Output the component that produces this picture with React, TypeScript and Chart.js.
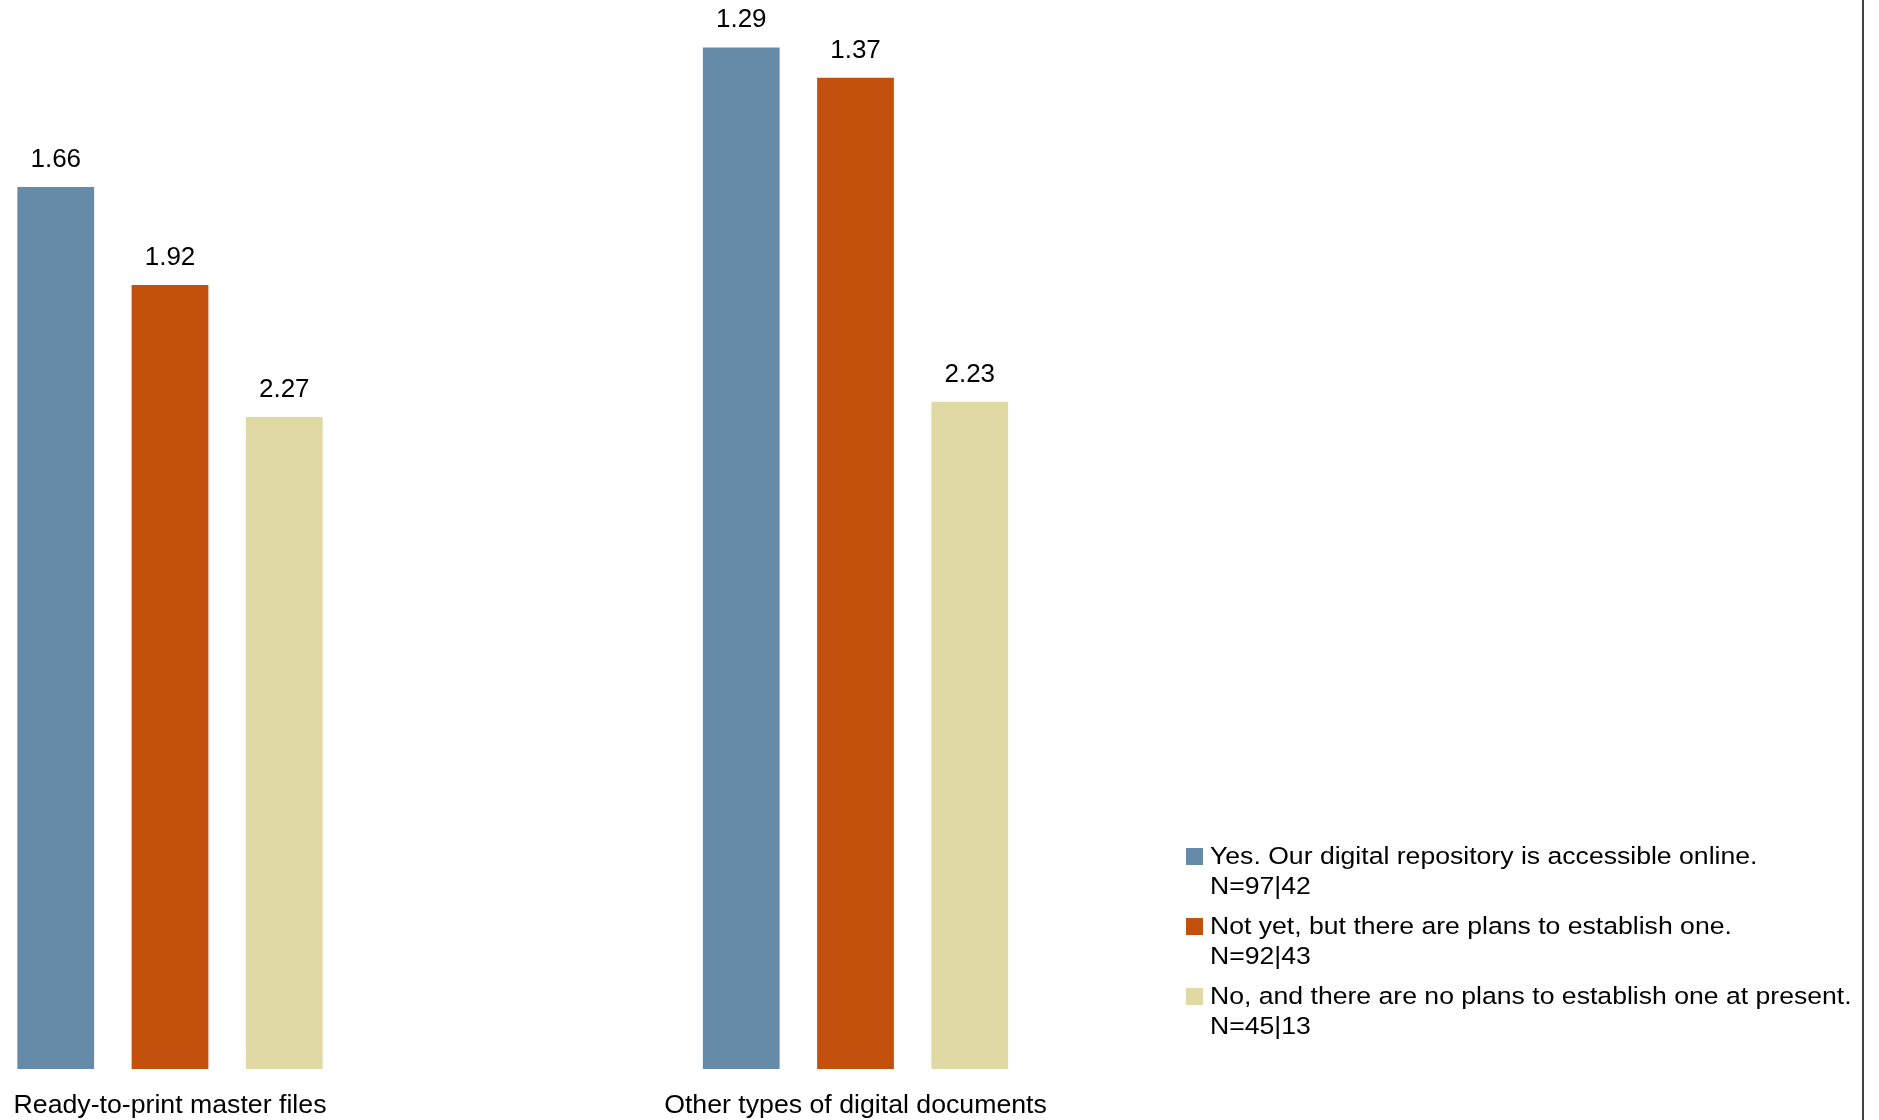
import React, { useEffect, useRef } from "react";
import { Chart, registerables } from "chart.js";

Chart.register(...registerables);

// ---- Data ----
const CATEGORIES = ["Ready-to-print master files", "Other types of digital documents"];
const SERIES_NAMES = [
  "Yes. Our digital repository is accessible online.",
  "Not yet, but there are plans to establish one.",
  "No, and there are no plans to establish one at present.",
];
const SERIES_N = ["N=97|42", "N=92|43", "N=45|13"];
const YES_VALUES = [1.66, 1.29];
const PLANS_VALUES = [1.92, 1.37];
const NO_VALUES = [2.27, 2.23];
const SERIES_VALUES = [YES_VALUES, PLANS_VALUES, NO_VALUES];

// ---- Style ----
const COLORS = ["#668BA8", "#C4500E", "#E0D9A4"];
const AXIS_BASE = 4; // bars grow from this value (bottom of reversed axis)
const AXIS_TOP = 1.164; // value at the top of the plot area
const FONT = "'Liberation Sans', Arial, sans-serif";

const valueLabelPlugin = {
  id: "valueLabels",
  afterDatasetsDraw(chart: any) {
    const ctx = chart.ctx;
    const yScale = chart.scales.y;
    ctx.save();
    ctx.font = `26px ${FONT}`;
    ctx.fillStyle = "#000";
    ctx.textAlign = "center";
    ctx.textBaseline = "alphabetic";
    SERIES_VALUES.forEach((vals, i) => {
      const meta = chart.getDatasetMeta(i);
      meta.data.forEach((bar: any, j: number) => {
        const v = vals[j];
        const y = yScale.getPixelForValue(v);
        ctx.fillText(v.toFixed(2), bar.x, y - 20);
      });
    });
    ctx.restore();
  },
};

const legendPlugin = {
  id: "customLegend",
  afterDraw(chart: any) {
    const ctx = chart.ctx;
    ctx.save();
    const boxX = 1186;
    const textX = 1210;
    const firstBaseline = 864;
    const entryPitch = 70;
    const linePitch = 30;
    SERIES_NAMES.forEach((name, i) => {
      const base = firstBaseline + i * entryPitch;
      ctx.fillStyle = COLORS[i];
      ctx.fillRect(boxX, base - 16, 17, 17);
      ctx.fillStyle = "#000";
      ctx.font = `26.6px ${FONT}`;
      ctx.textAlign = "left";
      ctx.textBaseline = "alphabetic";
      [name, SERIES_N[i]].forEach((line, k) => {
        ctx.save();
        ctx.translate(textX, base + k * linePitch);
        ctx.scale(1, 0.87);
        ctx.fillText(line, 0, 0);
        ctx.restore();
      });
    });
    // right frame line
    ctx.fillStyle = "#404040";
    ctx.fillRect(1862, 0, 2, chart.height);
    ctx.restore();
  },
};

export default function App() {
  const canvasRef = useRef<HTMLCanvasElement | null>(null);

  useEffect(() => {
    if (!canvasRef.current) return;
    const chart = new Chart(canvasRef.current, {
      type: "bar",
      data: {
        labels: CATEGORIES,
        datasets: SERIES_VALUES.map((vals, i) => ({
          label: SERIES_NAMES[i],
          data: vals.map((v) => [AXIS_BASE, v]),
          backgroundColor: COLORS[i],
          borderWidth: 0,
          categoryPercentage: 0.5,
          barPercentage: 0.672,
          clip: false as any,
        })),
      },
      options: {
        animation: false,
        responsive: false,
        devicePixelRatio: 1,
        layout: { padding: { left: 170, right: 1023.5, top: 0, bottom: 0 } },
        plugins: {
          legend: { display: false },
          tooltip: { enabled: false },
        },
        scales: {
          x: {
            type: "category",
            offset: false,
            grid: { display: false, drawTicks: false, tickLength: 0 },
            border: { display: false },
            ticks: {
              color: "#000",
              font: { family: FONT, size: 26.7 },
              padding: 21,
              maxRotation: 0,
              autoSkip: false,
            },
            afterFit: (scale: any) => {
              scale.height = 51;
              scale.paddingLeft = 0;
              scale.paddingRight = 0;
            },
          },
          y: {
            display: false,
            reverse: true,
            min: AXIS_TOP,
            max: AXIS_BASE,
          },
        },
      },
      plugins: [valueLabelPlugin, legendPlugin],
    });
    return () => chart.destroy();
  }, []);

  return (
    <div style={{ position: "absolute", left: 0, top: 0, width: 1879, height: 1120, background: "#fff" }}>
      <canvas ref={canvasRef} width={1879} height={1120} style={{ display: "block", width: 1879, height: 1120 }} />
    </div>
  );
}
